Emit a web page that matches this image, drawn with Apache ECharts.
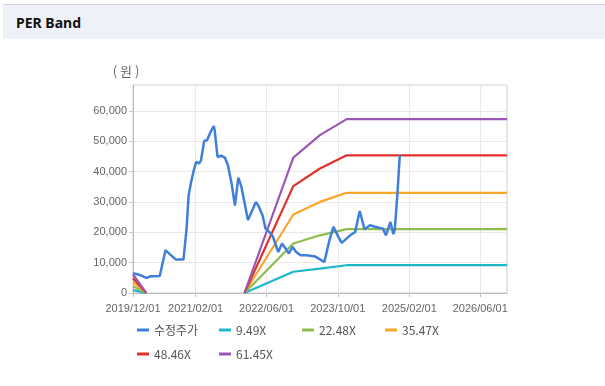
<!DOCTYPE html>
<html>
<head>
<meta charset="utf-8">
<script src="https://cdn.jsdelivr.net/npm/echarts@6/dist/echarts.min.js"></script>
<style>
  html, body { margin: 0; padding: 0; background: #ffffff; }
  #hdr { position: absolute; left: 3px; right: 0; top: 4px; height: 35px; background: #eef2f8; border-top: 1px solid #d4d4d4;
         font-family: "Noto Sans", "Open Sans", sans-serif; font-weight: bold; font-size: 14px; color: #111; line-height: 35px; padding-left: 13px; box-sizing: border-box; }
  #chart { position: absolute; left: 0; top: 0; width: 605px; height: 386px; }
</style>
</head>
<body>
<div id="hdr">PER Band</div>
<div id="chart"></div>
<script>
// ---- data ----
const seriesNames = ['수정주가', '9.49X', '22.48X', '35.47X', '48.46X', '61.45X'];
const xTickLabels = ['2019/12/01', '2021/02/01', '2022/06/01', '2023/10/01', '2025/02/01', '2026/06/01'];
const xMin = '2019/12/01';
const xMax = '2026/12/01';

const priceDates = [
  '2019/12/01','2020/01/15','2020/03/01','2020/04/01','2020/06/01','2020/07/10','2020/08/15','2020/09/20',
  '2020/11/10','2020/12/01','2020/12/15','2021/01/01','2021/01/20','2021/02/05','2021/02/25','2021/03/10',
  '2021/04/01','2021/04/20','2021/05/15','2021/06/05','2021/06/12','2021/07/01','2021/07/25','2021/08/20',
  '2021/09/10','2021/10/05','2021/10/28','2021/11/05','2021/11/20','2021/12/10','2022/01/25','2022/03/20',
  '2022/04/10','2022/05/05','2022/05/25','2022/06/20','2022/07/15','2022/08/20','2022/09/15','2022/10/10',
  '2022/11/01','2022/11/25','2022/12/20','2023/01/20','2023/03/01','2023/05/01','2023/07/01','2023/08/05',
  '2023/09/01','2023/10/05','2023/10/28','2023/12/25','2024/01/28','2024/02/28','2024/04/01','2024/05/08',
  '2024/06/10','2024/08/05','2024/08/25','2024/09/25','2024/10/15','2024/10/25','2024/11/12','2024/11/28'
];
const priceValues = [
  6500, 6000, 5000, 5500, 5600, 14100, 12500, 11000,
  11000, 21000, 32000, 36500, 40500, 43200, 42700, 43700,
  50100, 50300, 53100, 55000, 53400, 44800, 45200, 44600,
  42100, 36100, 28800, 28400, 38000, 35200, 24000, 30000,
  28400, 25500, 21200, 20100, 18500, 13500, 16300, 14600,
  13000, 15200, 13500, 12400, 12400, 12000, 10200, 17400,
  21800, 18500, 16500, 19000, 20100, 27000, 21000, 22300,
  21800, 21200, 19000, 23400, 19400, 21000, 32800, 45400
];

const bandDates = ['2019/12/01','2020/03/01','2020/04/01','2022/01/01','2022/12/01','2023/06/01','2023/12/01','2026/12/01'];
const band949  = [ 950, 0, null, 0,  7000,  8000,  9150,  9150];
const band2248 = [2250, 0, null, 0, 16300, 19000, 21050, 21050];
const band3547 = [3550, 0, null, 0, 25850, 30000, 33000, 33000];
const band4846 = [4850, 0, null, 0, 35200, 41000, 45350, 45350];
const band6145 = [6150, 0, null, 0, 44600, 52000, 57250, 57250];

const colors = ['#3f7fd9', '#1cb8c9', '#8fbc4e', '#f9a62b', '#e2302a', '#9b57b5'];

// ---- chart ----
const ts = s => new Date(s).getTime();
function pairs(dates, vals) {
  return dates.map((d, i) => [ts(d), vals[i] === null ? '-' : vals[i]]);
}
function fmtDate(v) {
  const d = new Date(v);
  const p = n => (n < 10 ? '0' : '') + n;
  return d.getFullYear() + '/' + p(d.getMonth() + 1) + '/' + p(d.getDate());
}
const tickTimes = xTickLabels.map(ts);

const bands = [band949, band2248, band3547, band4846, band6145];
const series = [{
  name: seriesNames[0], type: 'line', data: pairs(priceDates, priceValues),
  showSymbol: false, lineStyle: { width: 2.5, color: colors[0] }, itemStyle: { color: colors[0] }, z: 3
}];
bands.forEach((b, i) => {
  series.push({
    name: seriesNames[i + 1], type: 'line', data: pairs(bandDates, b),
    showSymbol: false, connectNulls: false,
    lineStyle: { width: 2.2, color: colors[i + 1] }, itemStyle: { color: colors[i + 1] }, z: 2
  });
});

// one legend per item, laid out in fixed columns like the reference
const legendCols = [137, 219, 302, 385];
const legendRows = [324, 348];
const legends = seriesNames.map((name, i) => ({
  data: [name], orient: 'horizontal', padding: 0,
  left: legendCols[i % 4], top: legendRows[Math.floor(i / 4)],
  icon: 'rect', itemWidth: 12, itemHeight: 3,
  textStyle: { fontSize: 12, color: '#555', fontFamily: '"Noto Sans CJK KR", "Liberation Sans", sans-serif' }
}));

const chart = echarts.init(document.getElementById('chart'), null, { renderer: 'canvas' });
chart.setOption({
  animation: false,
  color: colors,
  grid: { left: 133, right: 98, top: 85, bottom: 93, show: true, borderColor: '#cccccc', borderWidth: 1, backgroundColor: 'transparent' },
  legend: legends,
  xAxis: {
    type: 'value', min: ts(xMin), max: ts(xMax), scale: true,
    axisLine: { lineStyle: { color: '#bbbbbb' } },
    axisTick: { show: true, length: 4, customValues: tickTimes, lineStyle: { color: '#bbbbbb' } },
    axisLabel: { customValues: tickTimes, formatter: v => fmtDate(v), color: '#666', fontSize: 11,
                 fontFamily: '"Liberation Sans", Arial, sans-serif', margin: 10, hideOverlap: false },
    splitLine: { show: true, lineStyle: { color: '#e9e9e9' } }
  },
  yAxis: {
    type: 'value', min: 0, max: 68500, interval: 10000,
    name: '( 원 )', nameLocation: 'end', nameGap: 7,
    nameTextStyle: { color: '#666', fontSize: 13, padding: [0, 14, 0, 0], fontFamily: '"Noto Sans CJK KR", sans-serif' },
    axisLine: { show: true, lineStyle: { color: '#bbbbbb' } },
    axisTick: { show: true, length: 4, lineStyle: { color: '#cccccc' } },
    axisLabel: { showMaxLabel: false, color: '#666', fontSize: 11, margin: 6,
                 fontFamily: '"Liberation Sans", Arial, sans-serif',
                 formatter: v => (v % 10000 === 0 ? v.toLocaleString('en-US') : '') },
    splitLine: { show: true, lineStyle: { color: '#e9e9e9' } }
  },
  series: series
});
</script>
</body>
</html>
